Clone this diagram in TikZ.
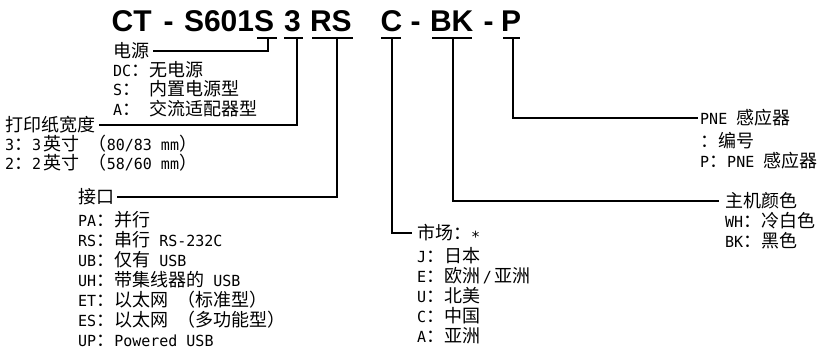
\documentclass[tikz,border=0pt]{standalone}
\usepackage{fontspec}
\setmainfont{DejaVu Sans Mono}[Scale=0.85,FakeStretch=0.98]
\newfontfamily\cjk{Noto Sans CJK SC}
\newfontfamily\ttlfont{Liberation Sans}
\newcommand\Z[1]{{\cjk #1}}
\begin{document}
\begin{tikzpicture}[x=1pt,y=-1pt,
  ln/.style={line width=1.9pt},
  ttl/.style={font=\ttlfont\bfseries\fontsize{30}{32}\selectfont,inner sep=0pt,anchor=base west},
  hd/.style={font=\fontsize{18}{20}\selectfont,inner sep=0pt,anchor=west},
  it/.style={font=\fontsize{18}{20}\selectfont,inner sep=0pt,anchor=base west}]
\useasboundingbox (0,0) rectangle (837,350);
% title
\node[ttl] (t1) at (111.5,32) {CT};
\node[ttl] (t2) at (163.5,32) {-};
\node[ttl] (t3) at (183.8,32) {S601S};
\node[ttl] (t4) at (283.8,32) {3};
\node[ttl] (t5) at (309.8,32) {RS};
\node[ttl] (t6) at (380.5,32) {C};
\node[ttl] (t7) at (410.3,32) {-};
\node[ttl] (t8) at (429.8,32) {BK};
\node[ttl] (t9) at (483.3,32) {-};
\node[ttl] (t10) at (500.8,32) {P};
% underlines
\draw[ln] (257,38) -- (277,38);
\draw[ln] (284,38) -- (303,38);
\draw[ln] (312,38) -- (353,38);
\draw[ln] (381,38) -- (401,38);
\draw[ln] (432,38) -- (472,38);
\draw[ln] (503,38) -- (520,38);
\coordinate (cS) at (268,38);
\coordinate (c3) at (297,38);
\coordinate (cRS) at (337,38);
\coordinate (cC) at (392,38);
\coordinate (cBK) at (453,38);
\coordinate (cP) at (513,38);
% power
\node[hd] (hPow) at (113,51) {\Z{电源}};
\node[it] (p1) at (113,77) {DC\Z{：无电源}};
\node[it] (p2) at (113,96) {S\Z{：} \Z{内置电源型}};
\node[it] (p3) at (113,115) {A\Z{：} \Z{交流适配器型}};
\draw[ln] (cS) |- ([xshift=4pt]hPow.east);
% paper width
\node[hd] (hW) at (5,125) {\Z{打印纸宽度}};
\node[it] (w1) at (5,150.3) {3\Z{：}3\,\Z{英寸} \Z{（}80/83 mm\Z{）}};
\node[it] (w2) at (5,169) {2\Z{：}2\,\Z{英寸} \Z{（}58/60 mm\Z{）}};
\draw[ln] (c3) |- ([xshift=4pt]hW.east);
% interface
\node[hd] (hI) at (78,197) {\Z{接口}};
\node[it] (i1) at (78,226.8) {PA\Z{：并行}};
\node[it] (i2) at (78,246.8) {RS\Z{：串行} RS-232C};
\node[it] (i3) at (78,266.8) {UB\Z{：仅有} USB};
\node[it] (i4) at (78,286.8) {UH\Z{：带集线器的} USB};
\node[it] (i5) at (78,306.8) {ET\Z{：以太网} \Z{（标准型）}};
\node[it] (i6) at (78,326.8) {ES\Z{：以太网} \Z{（多功能型）}};
\node[it] (i7) at (78,346.8) {UP\Z{：}Powered USB};
\draw[ln] (cRS) |- ([xshift=3pt]hI.east);
% market
\node[hd] (hM) at (417,233) {\Z{市场：}\raisebox{-3pt}{*}};
\node[it] (m1) at (417,262.8) {J\Z{：日本}};
\node[it] (m2) at (417,282.8) {E\Z{：欧洲}\,/\,\Z{亚洲}};
\node[it] (m3) at (417,302.8) {U\Z{：北美}};
\node[it] (m4) at (417,322.8) {C\Z{：中国}};
\node[it] (m5) at (417,342.8) {A\Z{：亚洲}};
\draw[ln] (cC) |- ([xshift=-5pt]hM.west);
% colour
\node[hd] (hC) at (725,201) {\Z{主机颜色}};
\node[it] (k1) at (725,227.8) {WH\Z{：冷白色}};
\node[it] (k2) at (725,247.8) {BK\Z{：黑色}};
\draw[ln] (cBK) |- ([xshift=-6pt]hC.west);
% PNE
\node[hd] (hP) at (700,118) {PNE \Z{感应器}};
\node[it] (q1) at (700,147.8) {\Z{：编号}};
\node[it] (q2) at (700,167.8) {P\Z{：}PNE \Z{感应器}};
\draw[ln] (cP) |- ([xshift=-2pt]hP.west);
\end{tikzpicture}
\end{document}
